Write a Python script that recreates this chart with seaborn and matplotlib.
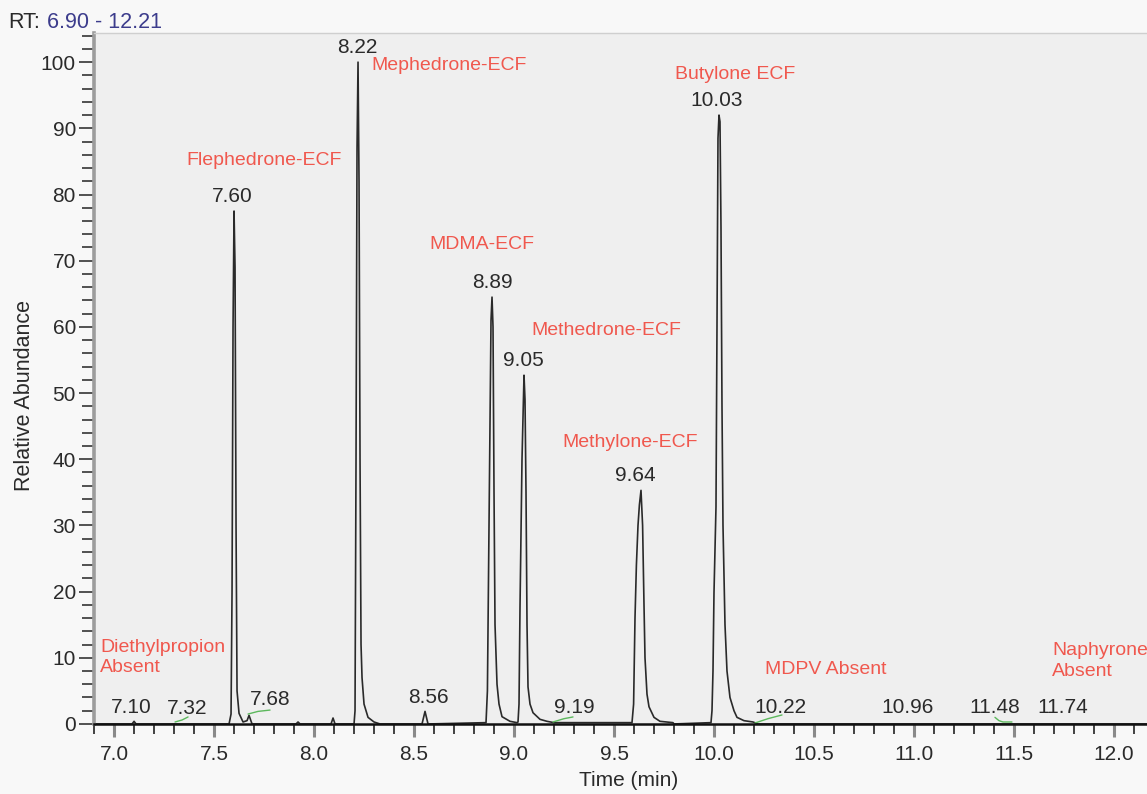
import matplotlib
matplotlib.use("Agg")
import matplotlib.pyplot as plt
from matplotlib.ticker import MultipleLocator, FormatStrFormatter
import pandas as pd
import seaborn as sns

# chromatogram trace
trace_time = [
    6.90, 7.09, 7.10, 7.11, 7.575, 7.585, 7.59, 7.595, 7.60, 7.605, 7.61, 7.615,
    7.625, 7.645, 7.665, 7.675, 7.69, 7.91, 7.92, 7.93, 8.085, 8.095, 8.105,
    8.20, 8.205, 8.21, 8.215, 8.22, 8.225, 8.23, 8.235, 8.24, 8.25, 8.27, 8.30,
    8.33, 8.54, 8.555, 8.57, 8.86, 8.867, 8.875, 8.885, 8.89, 8.895, 8.90, 8.905,
    8.915, 8.925, 8.94, 8.98, 9.015, 9.02, 9.025, 9.03, 9.04, 9.05, 9.055, 9.06,
    9.065, 9.07, 9.08, 9.095, 9.13, 9.165, 9.20, 9.59, 9.598, 9.605, 9.612, 9.62,
    9.627, 9.635, 9.643, 9.65, 9.655, 9.665, 9.675, 9.70, 9.73, 9.795, 9.80,
    9.985, 9.99, 9.995, 10.00, 10.01, 10.015, 10.02, 10.025, 10.03, 10.035,
    10.04, 10.045, 10.055, 10.065, 10.08, 10.10, 10.115, 10.15, 10.195, 10.22,
    12.21,
]
trace_abund = [
    0.0, 0.0, 0.4, 0.0, 0.0, 1.5, 20.0, 60.0, 77.5, 69.0, 30.0, 5.0,
    1.6, 0.3, 0.5, 1.3, 0.0, 0.0, 0.3, 0.0, 0.0, 0.9, 0.0,
    0.0, 2.0, 40.0, 87.0, 100.0, 82.0, 40.0, 12.0, 7.0, 3.0, 1.0, 0.3,
    0.0, 0.0, 1.9, 0.0, 0.2, 5.0, 30.0, 61.0, 64.5, 60.0, 35.0, 15.0,
    6.0, 3.0, 1.1, 0.4, 0.2, 0.3, 3.0, 17.7, 40.0, 52.7, 49.0, 35.0,
    15.0, 5.6, 3.0, 1.7, 0.7, 0.4, 0.2, 0.2, 3.0, 16.0, 24.0, 30.0,
    33.1, 35.3, 30.0, 18.0, 10.0, 4.5, 2.6, 1.0, 0.4, 0.2, 0.0,
    0.2, 2.0, 8.0, 19.8, 32.8, 60.0, 88.5, 92.0, 91.0, 75.0,
    48.0, 30.0, 15.0, 8.0, 4.0, 2.0, 1.0, 0.5, 0.3, 0.0,
    0.0,
]

# labelled apexes
major_rt = [7.60, 8.22, 8.89, 9.05, 9.64, 10.03]
major_height = [77.5, 100.0, 64.5, 52.7, 35.3, 92.0]

# small labelled peaks near the baseline
minor_rt = [7.10, 7.32, 7.68, 8.56, 9.19, 10.22, 10.96, 11.48, 11.74]

# compound names (red)
compound_names = ["Flephedrone-ECF", "Mephedrone-ECF", "MDMA-ECF", "Methedrone-ECF",
                  "Methylone-ECF", "Butylone ECF"]
absent_names = ["Diethylpropion\nAbsent", "MDPV Absent", "Naphyrone\nAbsent"]

# green integration baselines: (times, levels)
baseline_marks = [
    ([7.305, 7.34, 7.37], [0.3, 0.6, 1.06]),
    ([7.67, 7.72, 7.78], [1.5, 1.9, 2.1]),
    ([9.195, 9.25, 9.295], [0.3, 0.8, 1.06]),
    ([10.205, 10.27, 10.34], [0.15, 0.8, 1.36]),
    ([11.405, 11.425, 11.445, 11.49], [1.0, 0.5, 0.3, 0.3]),
]

RED = "#f0584e"
INK = "#2a2a2a"


def main() -> None:
    sns.set_theme(style="white")
    plt.rcParams["font.family"] = ["Liberation Sans", "DejaVu Sans"]

    fig = plt.figure(figsize=(11.47, 7.94), dpi=100, facecolor="#f8f8f8")
    ax = fig.add_axes([0.082, 0.0882, 0.9258, 0.8702])
    ax.set_facecolor("#efefef")

    trace = pd.DataFrame({"time": trace_time, "abund": trace_abund})
    sns.lineplot(data=trace, x="time", y="abund", color=INK, linewidth=1.2,
                 estimator=None, sort=False, ax=ax)

    for times, levels in baseline_marks:
        sns.lineplot(x=times, y=levels, color="#5cb85c", linewidth=1.0,
                     estimator=None, sort=False, ax=ax)

    ax.set_xlim(6.90, 12.21)
    ax.set_ylim(0, 104.4)

    # retention time labels above the big peaks
    major_dx = [-0.01, -0.005, 0.0, -0.005, -0.035, -0.015]
    for rt, h, dx in zip(major_rt, major_height, major_dx):
        ax.annotate(f"{rt:.2f}", (rt + dx, h), xytext=(0, 4), textcoords="offset points",
                    ha="center", va="bottom", fontsize=15, color=INK)

    # baseline labels, nudged like the instrument software does
    minor_dx = [-0.015, 0.045, 0.10, 0.01, 0.11, 0.11, 0.01, -0.075, 0.005]
    minor_y = [1.0, 0.9, 2.2, 2.5, 1.0, 1.0, 1.0, 1.0, 1.0]
    for rt, dx, y in zip(minor_rt, minor_dx, minor_y):
        ax.text(rt + dx, y, f"{rt:.2f}", ha="center", va="bottom", fontsize=15, color=INK)

    name_xy = [(7.75, 85.2), (8.675, 99.5), (8.84, 72.4), (9.46, 59.5), (9.58, 42.6),
               (10.105, 98.1)]
    for name, (x, y) in zip(compound_names, name_xy):
        ax.text(x, y, name, ha="center", va="center", fontsize=14, color=RED)

    absent_xy = [(6.93, 10.05), (10.255, 8.3), (11.69, 9.5)]
    for name, (x, y) in zip(absent_names, absent_xy):
        ax.text(x, y, name, ha="left", va="center", fontsize=14, color=RED,
                linespacing=1.3)

    # axes furniture
    ax.xaxis.set_major_locator(MultipleLocator(0.5))
    ax.xaxis.set_minor_locator(MultipleLocator(0.1))
    ax.xaxis.set_major_formatter(FormatStrFormatter("%.1f"))
    ax.yaxis.set_major_locator(MultipleLocator(10))
    ax.yaxis.set_minor_locator(MultipleLocator(2))
    ax.tick_params(axis="x", which="major", direction="out", length=9, width=2.2,
                   color="#8a8a8a", labelsize=15, labelcolor=INK, pad=6, bottom=True)
    ax.tick_params(axis="x", which="minor", direction="out", length=7, width=1.3,
                   color="#333333", bottom=True)
    ax.tick_params(axis="y", which="major", direction="out", length=11, width=1.3,
                   color="#444444", labelsize=15, labelcolor=INK, pad=2, left=True)
    ax.tick_params(axis="y", which="minor", direction="out", length=9, width=1.3,
                   color="#444444", left=True)
    ax.grid(False)

    ax.spines["left"].set_color("#9c9c9c")
    ax.spines["left"].set_linewidth(2.6)
    ax.spines["bottom"].set_color("#111111")
    ax.spines["bottom"].set_linewidth(1.8)
    ax.spines["top"].set_color("#cfcfcf")
    ax.spines["top"].set_linewidth(1.0)
    ax.spines["right"].set_visible(False)

    ax.set_xlabel("Time (min)", fontsize=15, color=INK)
    ax.set_ylabel("Relative Abundance", fontsize=15.5, color=INK)
    ax.xaxis.set_label_coords(0.503, -0.068)
    ax.yaxis.set_label_coords(-0.056, 0.475)

    fig.text(0.007, 0.972, "RT:", fontsize=15.5, color=INK, va="center", ha="left")
    fig.text(0.041, 0.972, "6.90 - 12.21", fontsize=15.5, color="#3c3c8c", va="center",
             ha="left")

    fig.savefig("out.png", dpi=100, facecolor=fig.get_facecolor())
    plt.close(fig)


if __name__ == "__main__":
    main()
